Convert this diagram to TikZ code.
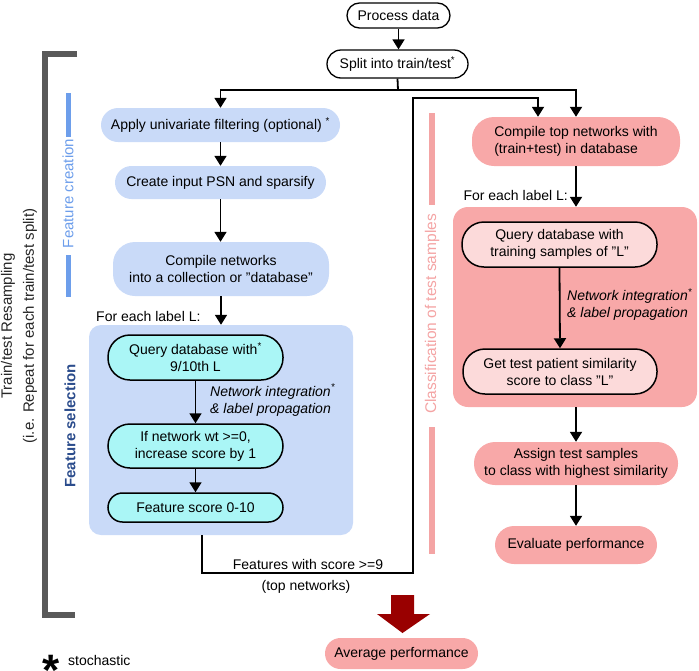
\documentclass[tikz,border=0pt]{standalone}
\usepackage{fontspec}
\setmainfont{Liberation Sans}
\usetikzlibrary{arrows.meta}
\definecolor{lblue}{HTML}{C9DAF8}
\definecolor{cyanf}{HTML}{AAF6F6}
\definecolor{salmon}{HTML}{F8A8A8}
\definecolor{lpink}{HTML}{FCDADA}
\definecolor{dred}{HTML}{990000}
\definecolor{brgray}{HTML}{595959}
\definecolor{fcblue}{HTML}{6D9EEB}
\definecolor{fsblue}{HTML}{2B4C8C}
\definecolor{clspink}{HTML}{F4A4A4}
\begin{document}
\begin{tikzpicture}[x=1pt,y=-1pt,
  every node/.style={font=\fontsize{14}{17}\selectfont, inner sep=0pt, align=center},
  bx/.style n args={3}{minimum width=#1, minimum height=#2, rounded corners=#3},
  wbox/.style={draw=black, line width=1.3pt, fill=white},
  bluebox/.style={fill=lblue},
  cyanbox/.style={draw=black, line width=1.5pt, fill=cyanf},
  pinkbox/.style={fill=salmon},
  lpinkbox/.style={draw=black, line width=1.5pt, fill=lpink},
  itl/.style={font=\fontsize{14}{17}\selectfont\itshape, align=left, anchor=west},
  ln/.style={line width=1.8pt},
  arr/.style={line width=1.8pt, -{Triangle[width=12pt,length=10pt]}},
  rot/.style={rotate=90, font=\fontsize{15}{18}\selectfont}
]
\useasboundingbox (0,0) rectangle (699,670);

% left bracket and side labels
\draw[brgray, line width=6pt, line join=miter] (77,54) -- (45,54) -- (45,615) -- (75,615);
\node[rot, text=black!85] (trl) at (8,326) {Train/test Resampling};
\node[rot, text=black!85] (trl2) at (30,326) {(i.e. Repeat for each train/test split)};
\draw[fcblue, line width=5pt] (68,93) -- (68,137);
\draw[fcblue, line width=5pt] (68,255) -- (68,297);
\node[rot, text=fcblue] (fcl) at (68,193.5) {Feature creation};
\node[rot, text=fsblue, font=\fontsize{15}{18}\selectfont\bfseries] (fsl) at (70,426) {Feature selection};
\draw[clspink, line width=6pt] (432,113) -- (432,205);
\draw[clspink, line width=6pt] (432,427) -- (432,554);
\node[rot, text=clspink, font=\fontsize{15.5}{18}\selectfont] (cll) at (432,314) {Classification of test samples};

% top
\node[wbox, bx={103}{25}{12.5}] (process) at (398.5,15.5) {Process data};
\node[wbox, bx={141}{28}{14}] (split) at (397.5,64) {Split into train/test\textsuperscript{*}};

% feature creation column
\node[bluebox, bx={239}{34}{17}] (apply) at (220.5,125) {Apply univariate filtering (optional) \textsuperscript{*}};
\node[bluebox, bx={211}{33}{16.5}] (create) at (220.5,182.5) {Create input PSN and sparsify};
\node[bluebox, bx={216}{54}{22}] (cnet) at (221,269) {Compile networks\\into a collection or "database"};
\node[anchor=west] (fe1) at (96,316) {For each label L:};
\node[bluebox, bx={264}{210}{12}] (fsel) at (221,430) {};
\node[cyanbox, bx={175}{45}{22}] (query) at (195.5,357.5) {Query database with\textsuperscript{*}\\9/10th L};
\node[cyanbox, bx={175}{44}{22}] (ifnet) at (195.5,446) {If network wt >=0,\\increase score by 1};
\node[cyanbox, bx={175}{29}{14.5}] (fscore) at (195.5,507.5) {Feature score 0-10};
\node[itl] (ni1) at (210,400) {Network integration\textsuperscript{*}\\\& label propagation};

% classification column
\node[pinkbox, bx={208}{49}{22}, align=left] (ctop) at (576,141.5) {Compile top networks with\\(train+test) in database};
\node[anchor=east] (fe2) at (568,195) {For each label L:};
\node[pinkbox, bx={244}{200}{15}] (cls) at (575,307) {};
\node[lpinkbox, bx={195}{45}{22}] (qtr) at (559.5,244.5) {Query database with\\training samples of "L"};
\node[lpinkbox, bx={194}{45}{22}] (gt) at (560,371.5) {Get test patient similarity\\score to class "L"};
\node[itl] (ni2) at (567,304.5) {Network integration\textsuperscript{*}\\\& label propagation};
\node[pinkbox, bx={204}{43}{21}] (asg) at (576,463.5) {Assign test samples\\to class with highest similarity};
\node[pinkbox, bx={162}{38}{19}] (ev) at (576,545) {Evaluate performance};
\node[pinkbox, bx={153}{31}{15.5}] (avg) at (401.5,653.5) {Average performance};

% feature transfer labels
\node (ftxt) at (308,564) {Features with score >=9};
\node (ftop) at (306,587) {(top networks)};

% legend
\node[anchor=base, font=\fontsize{44}{44}\selectfont\bfseries] (star) at (51,685) {*};
\node[anchor=west] (stoch) at (68,660) {stochastic};

% connectors
\coordinate (j1) at (398,90);
\coordinate (c1) at (413,573);
\coordinate (c2) at (413,98);
\draw[arr] (process.south) -- (process.south |- split.north);
\draw[ln] (split.south) -- (j1);
\draw[arr] (j1) -| (apply.north);
\draw[arr] (j1) -| (ctop.north);
\draw[arr] (apply.south) -- (create.north);
\draw[arr] (create.south) -- (create.south |- cnet.north);
\draw[arr] (cnet.south) -- (cnet.south |- fsel.north);
\draw[arr] (query.south) -- (ifnet.north);
\draw[arr] (ifnet.south) -- (fscore.north);
\draw[arr] ([xshift=-19pt]fsel.south) |- (c1) -- (c2) -| ([xshift=-38pt]ctop.north);
\draw[arr] (ctop.south) -- (ctop.south |- cls.north);
\draw[arr] (qtr.south) -- (gt.north);
\draw[arr] (cls.south -| asg.north) -- (asg.north);
\draw[arr] (asg.south) -- (ev.north);

% big result arrow
\fill[dred] (391,595) -- (414,595) -- (414,614) -- (430,614) -- (402.5,633) -- (377,614) -- (391,614) -- cycle;
\end{tikzpicture}
\end{document}
